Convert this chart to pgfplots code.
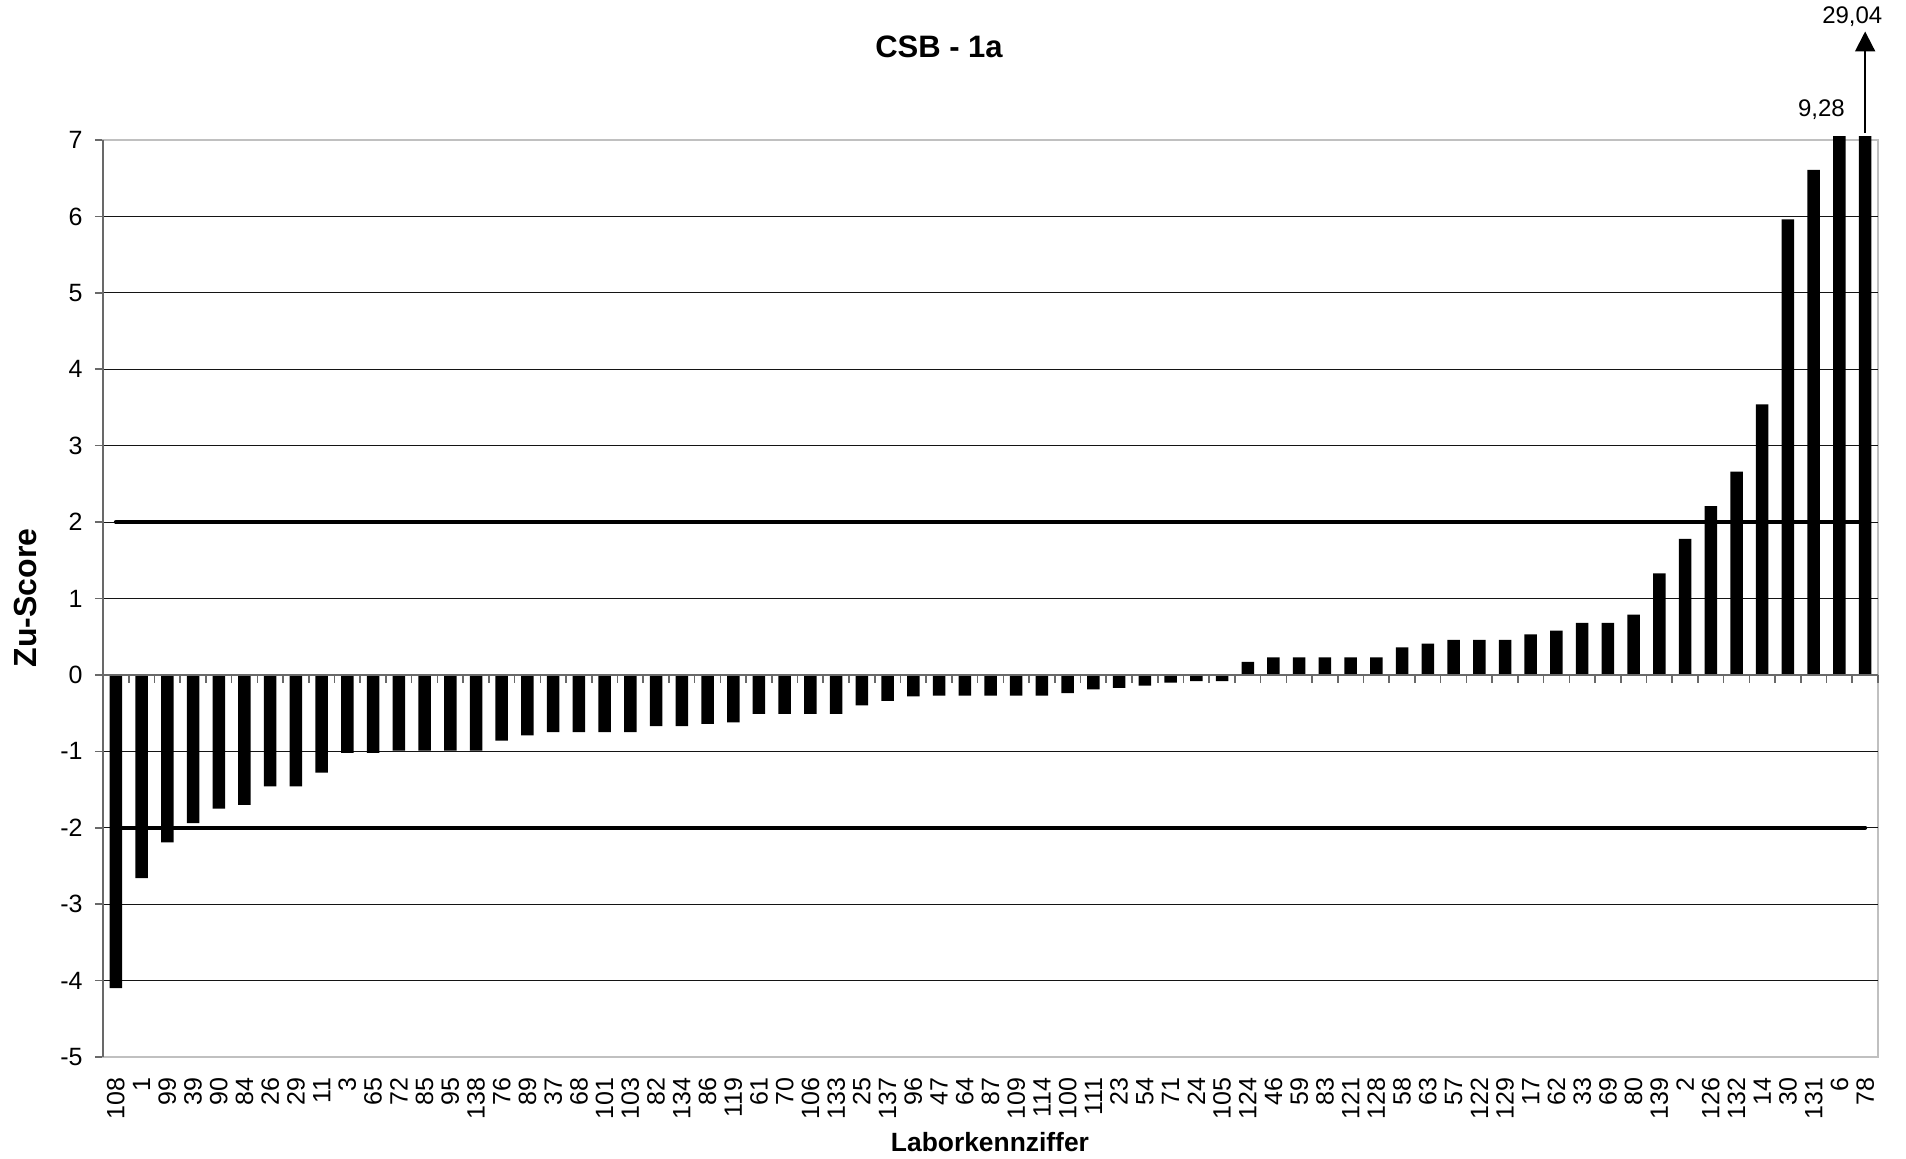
\documentclass[border=0pt]{standalone}
\usepackage{fontspec}
\setmainfont{Liberation Sans}
\usepackage{pgfplots}
\usepackage{pgfplotstable}
\pgfplotsset{compat=1.18}
\usetikzlibrary{arrows.meta}

\definecolor{frame}{RGB}{192,192,192}
\definecolor{axisgray}{RGB}{105,105,105}
\definecolor{gridc}{RGB}{20,20,20}

% n = position, lab = Laborkennziffer, z = Zu-Score
\pgfplotstableread{
n lab z
1 108 -4.10
2 1 -2.66
3 99 -2.19
4 39 -1.94
5 90 -1.75
6 84 -1.70
7 26 -1.46
8 29 -1.46
9 11 -1.28
10 3 -1.02
11 65 -1.02
12 72 -0.99
13 85 -0.99
14 95 -0.99
15 138 -0.99
16 76 -0.86
17 89 -0.79
18 37 -0.75
19 68 -0.75
20 101 -0.75
21 103 -0.75
22 82 -0.67
23 134 -0.67
24 86 -0.64
25 119 -0.62
26 61 -0.51
27 70 -0.51
28 106 -0.51
29 133 -0.51
30 25 -0.40
31 137 -0.34
32 96 -0.28
33 47 -0.27
34 64 -0.27
35 87 -0.27
36 109 -0.27
37 114 -0.27
38 100 -0.24
39 111 -0.19
40 23 -0.17
41 54 -0.14
42 71 -0.10
43 24 -0.08
44 105 -0.08
45 124 0.17
46 46 0.23
47 59 0.23
48 83 0.23
49 121 0.23
50 128 0.23
51 58 0.36
52 63 0.41
53 57 0.46
54 122 0.46
55 129 0.46
56 17 0.53
57 62 0.58
58 33 0.68
59 69 0.68
60 80 0.79
61 139 1.33
62 2 1.78
63 126 2.21
64 132 2.66
65 14 3.54
66 30 5.96
67 131 6.61
68 6 9.28
69 78 29.04
}\zudata

\begin{document}
\begin{tikzpicture}
\begin{axis}[
    scale only axis,
    width=887.5pt, height=458.5pt,
    xmin=0.5, xmax=69.5,
    ymin=-5, ymax=7,
    clip=false,
    axis line style={frame, line width=1pt},
    xtick={1,...,69},
    xticklabels from table={\zudata}{lab},
    xtick style={draw=none},
    xticklabel style={rotate=90, anchor=east, inner sep=0pt, font=\fontsize{12.5}{14}\selectfont},
    xticklabel shift=10pt,
    ytick={-5,...,7},
    yticklabels={-5,-4,-3,-2,-1,0,1,2,3,4,5,6,7},
    ytick pos=left,
    ytick align=outside,
    major tick length=4pt,
    ytick style={axisgray, line width=0.8pt},
    yticklabel style={inner sep=0pt, font=\fontsize{12.5}{14}\selectfont},
    yticklabel shift=6pt,
    extra y ticks={-4,-3,-2,-1,1,2,3,4,5,6},
    extra y tick labels={},
    extra y tick style={grid=major, tick style={draw=none}},
    major grid style={gridc, line width=0.55pt},
    title={CSB - 1a},
    title style={font=\bfseries\fontsize{15.5}{18}\selectfont, at={(axis description cs:0.471,1.0888)}, anchor=center},
    xlabel={Laborkennziffer},
    xlabel style={font=\bfseries\fontsize{13.2}{16}\selectfont, at={(axis description cs:0.4997,-0.0927)}, anchor=center},
    ylabel={Zu-Score},
    ylabel style={font=\bfseries\fontsize{16}{19}\selectfont, at={(axis description cs:-0.0434,0.5006)}, anchor=center},
]
    % bars above 7 are cut at the top of the plot, as in the chart
    \addplot[ybar, bar width=6.25pt, fill=black, draw=none, restrict y to domain*=-5:7.05]
        table[x=n, y=z] {\zudata};

    % limits +-2
    \addplot[black, line width=2pt, line cap=round] coordinates {(1,2) (69,2)};
    \addplot[black, line width=2pt, line cap=round] coordinates {(1,-2) (69,-2)};

    % category axis at 0 with ticks between bars
    \draw[axisgray, line width=0.8pt] (axis cs:0.5,0) -- (axis cs:69.5,0);
    \pgfplotsinvokeforeach{0,...,69}{
        \draw[axisgray, line width=0.8pt] (axis cs:#1.5,0) -- ++(0pt,-4pt);
    }
    \draw[axisgray, line width=1pt] (rel axis cs:0,0) -- (rel axis cs:0,1);

    % values of the cut bars
    \node[font=\fontsize{12}{14}\selectfont] at (axis cs:67.3,7.40) {9,28};
    \node[font=\fontsize{12}{14}\selectfont] at (axis cs:68.5,8.61) {29,04};
    \draw[line width=1pt, -{Triangle[length=10pt,width=10pt]}] (axis cs:69,7.09) -- (axis cs:69,8.42);
\end{axis}
\pgfresetboundingbox
\path (-51.5pt,-51pt) rectangle (901.5pt,528.5pt);
\end{tikzpicture}
\end{document}
